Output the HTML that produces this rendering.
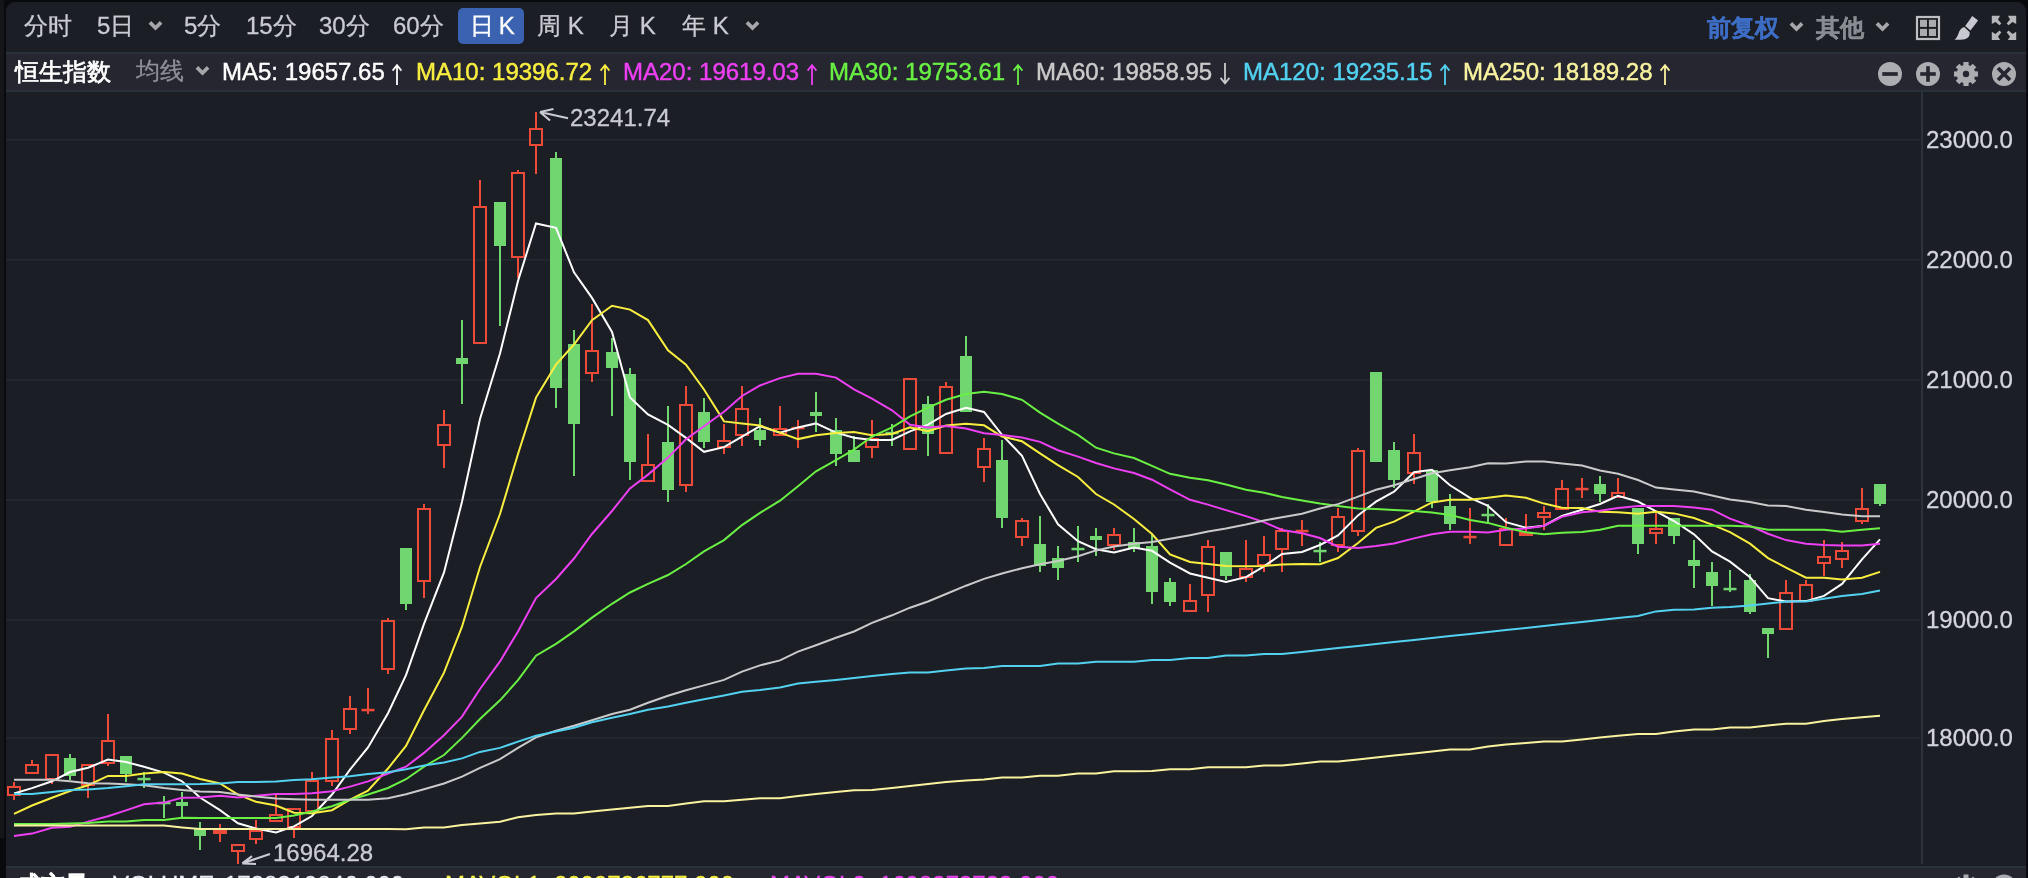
<!DOCTYPE html>
<html><head><meta charset="utf-8">
<style>
* { margin:0; padding:0; box-sizing:border-box; }
html,body { width:2028px; height:878px; overflow:hidden; background:#090a0d; }
body { position:relative; font-family:"Liberation Sans", sans-serif; }
.panel { position:absolute; left:6px; top:2px; width:2020px; height:900px; background:#1c1e25; border-radius:9px; overflow:hidden; }
.bar { position:absolute; left:6px; width:2020px; height:40px; background:#262631; border-top:2px solid #28323a; border-bottom:2px solid #28323a; }
.t { position:absolute; white-space:nowrap; font-size:24px; line-height:28px; will-change:transform; -webkit-text-stroke:0.3px currentColor; }
.tb { color:#c9cad2; top:12px; font-weight:500; }
.chev { position:absolute; }
.chart { position:absolute; left:0; top:0; }
.yl { position:absolute; left:1926px; font-size:24px; line-height:28px; color:#d3d4dc; will-change:transform; -webkit-text-stroke:0.3px currentColor; }
.ann { position:absolute; font-size:24px; line-height:28px; color:#c9cad2; will-change:transform; -webkit-text-stroke:0.3px currentColor; }
.ma { top:57.5px; -webkit-text-stroke:0.45px currentColor; }
.icon { position:absolute; }
</style></head><body>
<div style="position:absolute;left:0;top:0;width:4px;height:838px;background:#15161a"></div>
<div class="panel"></div>
<div class="bar" style="top:52px;"></div>
<div class="bar" style="top:866px;"></div>
<!-- toolbar -->
<div class="t tb" style="left:24px">分时</div>
<div class="t tb" style="left:97px">5日</div>
<svg class="chev" style="left:147.7px;top:20.0px" width="15" height="11" viewBox="0 0 15 11"><path d="M1.9 2.4 L7.5 8 L13.1 2.4" fill="none" stroke="#a5a7ab" stroke-width="3.7" stroke-linecap="butt" stroke-linejoin="miter"/></svg>
<div class="t tb" style="left:184px">5分</div>
<div class="t tb" style="left:246px">15分</div>
<div class="t tb" style="left:319px">30分</div>
<div class="t tb" style="left:393px">60分</div>
<div style="position:absolute;left:458px;top:8px;width:66px;height:36px;background:#3a62b0;border-radius:5px"></div>
<div class="t tb" style="left:469.5px;color:#fff;word-spacing:-2px">日 K</div>
<div class="t tb" style="left:537px">周 K</div>
<div class="t tb" style="left:609px">月 K</div>
<div class="t tb" style="left:682px">年 K</div>
<svg class="chev" style="left:744.7px;top:20.0px" width="15" height="11" viewBox="0 0 15 11"><path d="M1.9 2.4 L7.5 8 L13.1 2.4" fill="none" stroke="#a5a7ab" stroke-width="3.7" stroke-linecap="butt" stroke-linejoin="miter"/></svg>
<div class="t tb" style="left:1707px;top:13.5px;font-weight:bold;color:#3d6dc4">前复权</div>
<svg class="chev" style="left:1788.7px;top:21.0px" width="15" height="11" viewBox="0 0 15 11"><path d="M1.9 2.4 L7.5 8 L13.1 2.4" fill="none" stroke="#a5a7ab" stroke-width="3.7" stroke-linecap="butt" stroke-linejoin="miter"/></svg>
<div class="t tb" style="left:1816px;top:13.5px;font-weight:bold;color:#8a8c93">其他</div>
<svg class="chev" style="left:1874.7px;top:21.0px" width="15" height="11" viewBox="0 0 15 11"><path d="M1.9 2.4 L7.5 8 L13.1 2.4" fill="none" stroke="#a5a7ab" stroke-width="3.7" stroke-linecap="butt" stroke-linejoin="miter"/></svg>
<svg class="icon" style="left:1915px;top:15px" width="26" height="26" viewBox="0 0 26 26"><rect x="2" y="2" width="22" height="22" fill="none" stroke="#bdbfc3" stroke-width="2.2"/><rect x="5" y="4.8" width="7" height="7.1" fill="#a9abaf"/><rect x="13.9" y="4.8" width="7.1" height="7.1" fill="#a9abaf"/><rect x="5" y="13.9" width="7" height="7.1" fill="#a9abaf"/><rect x="13.9" y="13.9" width="7.1" height="7.1" fill="#a9abaf"/></svg>
<svg class="icon" style="left:1953px;top:15px" width="26" height="26" viewBox="0 0 26 26" fill="#c8c9d0"><polygon points="19.3,0.9 25.1,5.5 17.4,15.4 12.2,10.9"/><path d="M11.2 12.1 L16.5 16.9 C17.3 20.5 15.5 23.8 10 24.4 C6 24.8 3 24.8 1.5 24.8 C3.5 23.5 4.5 21 5.5 18.5 C6.5 15 8.5 12.8 11.2 12.1 Z"/></svg>
<svg class="icon" style="left:1991px;top:15px" width="26" height="26" viewBox="0 0 26 26" fill="#b4b6ba"><polygon transform="translate(0.8,0.8)" points="0,0 8.3,0 6.2,3.6 9.5,7.7 7.7,9.5 3.6,6.2 0,8.3"/><polygon transform="translate(25.2,0.8) scale(-1,1)" points="0,0 8.3,0 6.2,3.6 9.5,7.7 7.7,9.5 3.6,6.2 0,8.3"/><polygon transform="translate(0.8,25.1) scale(1,-1)" points="0,0 8.3,0 6.2,3.6 9.5,7.7 7.7,9.5 3.6,6.2 0,8.3"/><polygon transform="translate(25.2,25.1) scale(-1,-1)" points="0,0 8.3,0 6.2,3.6 9.5,7.7 7.7,9.5 3.6,6.2 0,8.3"/></svg>
<!-- indicator bar -->
<div class="t" style="left:15px;top:58px;color:#ffffff;font-weight:500;-webkit-text-stroke:0.7px #fff">恒生指数</div>
<div class="t" style="left:136px;top:57px;color:#8e9097">均线</div>
<svg class="chev" style="left:194.7px;top:65.0px" width="15" height="11" viewBox="0 0 15 11"><path d="M1.9 2.4 L7.5 8 L13.1 2.4" fill="none" stroke="#a5a7ab" stroke-width="3.7" stroke-linecap="butt" stroke-linejoin="miter"/></svg>
<div class="t ma" style="left:222px;color:#ffffff">MA5: 19657.65 <svg width="12" height="24" viewBox="0 0 12 24" style="vertical-align:-6px;margin-left:0px"><path d="M6 23 V3 M1.6 8.6 L6 3.2 L10.4 8.6" fill="none" stroke="currentColor" stroke-width="1.8"/></svg></div>
<div class="t ma" style="left:416px;color:#f8ee40">MA10: 19396.72 <svg width="12" height="24" viewBox="0 0 12 24" style="vertical-align:-6px;margin-left:0px"><path d="M6 23 V3 M1.6 8.6 L6 3.2 L10.4 8.6" fill="none" stroke="currentColor" stroke-width="1.8"/></svg></div>
<div class="t ma" style="left:623px;color:#ec40f2">MA20: 19619.03 <svg width="12" height="24" viewBox="0 0 12 24" style="vertical-align:-6px;margin-left:0px"><path d="M6 23 V3 M1.6 8.6 L6 3.2 L10.4 8.6" fill="none" stroke="currentColor" stroke-width="1.8"/></svg></div>
<div class="t ma" style="left:829px;color:#6af044">MA30: 19753.61 <svg width="12" height="24" viewBox="0 0 12 24" style="vertical-align:-6px;margin-left:0px"><path d="M6 23 V3 M1.6 8.6 L6 3.2 L10.4 8.6" fill="none" stroke="currentColor" stroke-width="1.8"/></svg></div>
<div class="t ma" style="left:1036px;color:#cacaca">MA60: 19858.95 <svg width="12" height="24" viewBox="0 0 12 24" style="vertical-align:-6px;margin-left:0px"><path d="M6 1 V21.5 M1.6 15.9 L6 21.3 L10.4 15.9" fill="none" stroke="currentColor" stroke-width="1.8"/></svg></div>
<div class="t ma" style="left:1243px;color:#52d2f0">MA120: 19235.15 <svg width="12" height="24" viewBox="0 0 12 24" style="vertical-align:-6px;margin-left:0px"><path d="M6 23 V3 M1.6 8.6 L6 3.2 L10.4 8.6" fill="none" stroke="currentColor" stroke-width="1.8"/></svg></div>
<div class="t ma" style="left:1463px;color:#f9f3a0">MA250: 18189.28 <svg width="12" height="24" viewBox="0 0 12 24" style="vertical-align:-6px;margin-left:0px"><path d="M6 23 V3 M1.6 8.6 L6 3.2 L10.4 8.6" fill="none" stroke="currentColor" stroke-width="1.8"/></svg></div>
<svg class="icon" style="left:1878px;top:61px" width="140" height="26" viewBox="0 0 140 26">
<circle cx="12" cy="13" r="12" fill="#abadb1"/><rect x="4.25" y="11.15" width="15.5" height="3.7" fill="#262631"/>
<circle cx="50" cy="13" r="12" fill="#abadb1"/><rect x="42.2" y="11.2" width="15.6" height="3.6" fill="#262631"/><rect x="48.2" y="5.2" width="3.6" height="15.6" fill="#262631"/>
<g transform="translate(88,13)" fill="#abadb1"><circle r="9.3"/><rect x="-2.6" y="-12" width="5.2" height="24"/><rect x="-2.6" y="-12" width="5.2" height="24" transform="rotate(45)"/><rect x="-2.6" y="-12" width="5.2" height="24" transform="rotate(90)"/><rect x="-2.6" y="-12" width="5.2" height="24" transform="rotate(135)"/><circle r="3.2" fill="#262631"/></g>
<circle cx="126" cy="13" r="12" fill="#abadb1"/><path d="M120 7 L132 19 M132 7 L120 19" stroke="#262631" stroke-width="3.8"/>
</svg>
<svg class="chart" width="2028" height="878" viewBox="0 0 2028 878">
<rect x="6" y="138.8" width="1914" height="2" fill="#24272e"/>
<rect x="6" y="258.7" width="1914" height="2" fill="#24272e"/>
<rect x="6" y="379.1" width="1914" height="2" fill="#24272e"/>
<rect x="6" y="499.0" width="1914" height="2" fill="#24272e"/>
<rect x="6" y="619.1" width="1914" height="2" fill="#24272e"/>
<rect x="6" y="737.1" width="1914" height="2" fill="#24272e"/>
<rect x="1921" y="92" width="2" height="772" fill="#2e323a"/>
<rect x="13.0" y="782.0" width="2" height="4.0" fill="#ee4a3a"/>
<rect x="13.0" y="796.0" width="2" height="4.0" fill="#ee4a3a"/>
<rect x="8.0" y="787.0" width="12" height="8.0" fill="none" stroke="#ee4a3a" stroke-width="2"/>
<rect x="31.0" y="760.0" width="2" height="4.0" fill="#ee4a3a"/>
<rect x="26.0" y="765.0" width="12" height="8.0" fill="none" stroke="#ee4a3a" stroke-width="2"/>
<rect x="51.0" y="780.0" width="2" height="4.0" fill="#ee4a3a"/>
<rect x="46.0" y="755.0" width="12" height="24.0" fill="none" stroke="#ee4a3a" stroke-width="2"/>
<rect x="69.0" y="754.0" width="2" height="4.0" fill="#72d670"/>
<rect x="69.0" y="776.0" width="2" height="4.0" fill="#72d670"/>
<rect x="64.0" y="758.0" width="12" height="18.0" fill="#72d670"/>
<rect x="87.0" y="786.0" width="2" height="12.0" fill="#ee4a3a"/>
<rect x="82.0" y="765.0" width="12" height="20.0" fill="none" stroke="#ee4a3a" stroke-width="2"/>
<rect x="107.0" y="714.0" width="2" height="26.0" fill="#ee4a3a"/>
<rect x="107.0" y="764.0" width="2" height="2.0" fill="#ee4a3a"/>
<rect x="102.0" y="741.0" width="12" height="22.0" fill="none" stroke="#ee4a3a" stroke-width="2"/>
<rect x="125.0" y="774.0" width="2" height="8.0" fill="#72d670"/>
<rect x="120.0" y="756.0" width="12" height="18.0" fill="#72d670"/>
<rect x="143.0" y="772.0" width="2" height="6.0" fill="#72d670"/>
<rect x="143.0" y="780.0" width="2" height="8.0" fill="#72d670"/>
<rect x="137.5" y="777.8" width="13" height="2.5" fill="#72d670"/>
<rect x="163.0" y="796.0" width="2" height="6.0" fill="#72d670"/>
<rect x="163.0" y="804.0" width="2" height="14.0" fill="#72d670"/>
<rect x="157.5" y="801.8" width="13" height="2.5" fill="#72d670"/>
<rect x="181.0" y="792.0" width="2" height="10.0" fill="#72d670"/>
<rect x="181.0" y="806.0" width="2" height="12.0" fill="#72d670"/>
<rect x="176.0" y="802.0" width="12" height="4.0" fill="#72d670"/>
<rect x="199.0" y="822.0" width="2" height="6.0" fill="#72d670"/>
<rect x="199.0" y="836.0" width="2" height="14.0" fill="#72d670"/>
<rect x="194.0" y="828.0" width="12" height="8.0" fill="#72d670"/>
<rect x="219.0" y="824.0" width="2" height="6.0" fill="#ee4a3a"/>
<rect x="219.0" y="834.0" width="2" height="8.0" fill="#ee4a3a"/>
<rect x="214.0" y="831.0" width="12" height="2.0" fill="none" stroke="#ee4a3a" stroke-width="2"/>
<rect x="237.0" y="852.0" width="2" height="12.0" fill="#ee4a3a"/>
<rect x="232.0" y="845.0" width="12" height="6.0" fill="none" stroke="#ee4a3a" stroke-width="2"/>
<rect x="255.0" y="820.0" width="2" height="10.0" fill="#ee4a3a"/>
<rect x="255.0" y="840.0" width="2" height="4.0" fill="#ee4a3a"/>
<rect x="250.0" y="831.0" width="12" height="8.0" fill="none" stroke="#ee4a3a" stroke-width="2"/>
<rect x="275.0" y="794.0" width="2" height="20.0" fill="#ee4a3a"/>
<rect x="270.0" y="815.0" width="12" height="6.0" fill="none" stroke="#ee4a3a" stroke-width="2"/>
<rect x="293.0" y="828.0" width="2" height="10.0" fill="#ee4a3a"/>
<rect x="288.0" y="809.0" width="12" height="18.0" fill="none" stroke="#ee4a3a" stroke-width="2"/>
<rect x="311.0" y="772.0" width="2" height="8.0" fill="#ee4a3a"/>
<rect x="306.0" y="781.0" width="12" height="30.0" fill="none" stroke="#ee4a3a" stroke-width="2"/>
<rect x="331.0" y="730.0" width="2" height="8.0" fill="#ee4a3a"/>
<rect x="331.0" y="782.0" width="2" height="4.0" fill="#ee4a3a"/>
<rect x="326.0" y="739.0" width="12" height="42.0" fill="none" stroke="#ee4a3a" stroke-width="2"/>
<rect x="349.0" y="696.0" width="2" height="12.0" fill="#ee4a3a"/>
<rect x="349.0" y="730.0" width="2" height="4.0" fill="#ee4a3a"/>
<rect x="344.0" y="709.0" width="12" height="20.0" fill="none" stroke="#ee4a3a" stroke-width="2"/>
<rect x="367.0" y="688.0" width="2" height="22.0" fill="#ee4a3a"/>
<rect x="367.0" y="710.0" width="2" height="4.0" fill="#ee4a3a"/>
<rect x="361.5" y="708.8" width="13" height="2.5" fill="#ee4a3a"/>
<rect x="387.0" y="618.0" width="2" height="2.0" fill="#ee4a3a"/>
<rect x="387.0" y="670.0" width="2" height="4.0" fill="#ee4a3a"/>
<rect x="382.0" y="621.0" width="12" height="48.0" fill="none" stroke="#ee4a3a" stroke-width="2"/>
<rect x="405.0" y="604.0" width="2" height="6.0" fill="#72d670"/>
<rect x="400.0" y="548.0" width="12" height="56.0" fill="#72d670"/>
<rect x="423.0" y="504.0" width="2" height="4.0" fill="#ee4a3a"/>
<rect x="423.0" y="582.0" width="2" height="16.0" fill="#ee4a3a"/>
<rect x="418.0" y="509.0" width="12" height="72.0" fill="none" stroke="#ee4a3a" stroke-width="2"/>
<rect x="443.0" y="410.0" width="2" height="14.0" fill="#ee4a3a"/>
<rect x="443.0" y="446.0" width="2" height="22.0" fill="#ee4a3a"/>
<rect x="438.0" y="425.0" width="12" height="20.0" fill="none" stroke="#ee4a3a" stroke-width="2"/>
<rect x="461.0" y="320.0" width="2" height="38.0" fill="#72d670"/>
<rect x="461.0" y="364.0" width="2" height="40.0" fill="#72d670"/>
<rect x="456.0" y="358.0" width="12" height="6.0" fill="#72d670"/>
<rect x="479.0" y="180.0" width="2" height="26.0" fill="#ee4a3a"/>
<rect x="474.0" y="207.0" width="12" height="136.0" fill="none" stroke="#ee4a3a" stroke-width="2"/>
<rect x="499.0" y="246.0" width="2" height="80.0" fill="#72d670"/>
<rect x="494.0" y="202.0" width="12" height="44.0" fill="#72d670"/>
<rect x="517.0" y="170.0" width="2" height="2.0" fill="#ee4a3a"/>
<rect x="517.0" y="258.0" width="2" height="20.0" fill="#ee4a3a"/>
<rect x="512.0" y="173.0" width="12" height="84.0" fill="none" stroke="#ee4a3a" stroke-width="2"/>
<rect x="535.0" y="112.0" width="2" height="16.0" fill="#ee4a3a"/>
<rect x="535.0" y="146.0" width="2" height="28.0" fill="#ee4a3a"/>
<rect x="530.0" y="129.0" width="12" height="16.0" fill="none" stroke="#ee4a3a" stroke-width="2"/>
<rect x="555.0" y="152.0" width="2" height="6.0" fill="#72d670"/>
<rect x="555.0" y="388.0" width="2" height="20.0" fill="#72d670"/>
<rect x="550.0" y="158.0" width="12" height="230.0" fill="#72d670"/>
<rect x="573.0" y="330.0" width="2" height="14.0" fill="#72d670"/>
<rect x="573.0" y="424.0" width="2" height="52.0" fill="#72d670"/>
<rect x="568.0" y="344.0" width="12" height="80.0" fill="#72d670"/>
<rect x="591.0" y="304.0" width="2" height="46.0" fill="#ee4a3a"/>
<rect x="591.0" y="374.0" width="2" height="8.0" fill="#ee4a3a"/>
<rect x="586.0" y="351.0" width="12" height="22.0" fill="none" stroke="#ee4a3a" stroke-width="2"/>
<rect x="611.0" y="338.0" width="2" height="14.0" fill="#72d670"/>
<rect x="611.0" y="368.0" width="2" height="48.0" fill="#72d670"/>
<rect x="606.0" y="352.0" width="12" height="16.0" fill="#72d670"/>
<rect x="629.0" y="368.0" width="2" height="6.0" fill="#72d670"/>
<rect x="629.0" y="462.0" width="2" height="18.0" fill="#72d670"/>
<rect x="624.0" y="374.0" width="12" height="88.0" fill="#72d670"/>
<rect x="647.0" y="434.0" width="2" height="30.0" fill="#ee4a3a"/>
<rect x="642.0" y="465.0" width="12" height="16.0" fill="none" stroke="#ee4a3a" stroke-width="2"/>
<rect x="667.0" y="406.0" width="2" height="36.0" fill="#72d670"/>
<rect x="667.0" y="490.0" width="2" height="12.0" fill="#72d670"/>
<rect x="662.0" y="442.0" width="12" height="48.0" fill="#72d670"/>
<rect x="685.0" y="386.0" width="2" height="18.0" fill="#ee4a3a"/>
<rect x="685.0" y="486.0" width="2" height="6.0" fill="#ee4a3a"/>
<rect x="680.0" y="405.0" width="12" height="80.0" fill="none" stroke="#ee4a3a" stroke-width="2"/>
<rect x="703.0" y="398.0" width="2" height="14.0" fill="#72d670"/>
<rect x="703.0" y="442.0" width="2" height="6.0" fill="#72d670"/>
<rect x="698.0" y="412.0" width="12" height="30.0" fill="#72d670"/>
<rect x="723.0" y="424.0" width="2" height="16.0" fill="#ee4a3a"/>
<rect x="723.0" y="448.0" width="2" height="6.0" fill="#ee4a3a"/>
<rect x="718.0" y="441.0" width="12" height="6.0" fill="none" stroke="#ee4a3a" stroke-width="2"/>
<rect x="741.0" y="386.0" width="2" height="22.0" fill="#ee4a3a"/>
<rect x="741.0" y="436.0" width="2" height="10.0" fill="#ee4a3a"/>
<rect x="736.0" y="409.0" width="12" height="26.0" fill="none" stroke="#ee4a3a" stroke-width="2"/>
<rect x="759.0" y="418.0" width="2" height="12.0" fill="#72d670"/>
<rect x="759.0" y="440.0" width="2" height="6.0" fill="#72d670"/>
<rect x="754.0" y="430.0" width="12" height="10.0" fill="#72d670"/>
<rect x="779.0" y="406.0" width="2" height="22.0" fill="#ee4a3a"/>
<rect x="774.0" y="429.0" width="12" height="6.0" fill="none" stroke="#ee4a3a" stroke-width="2"/>
<rect x="797.0" y="420.0" width="2" height="8.0" fill="#ee4a3a"/>
<rect x="797.0" y="428.0" width="2" height="20.0" fill="#ee4a3a"/>
<rect x="791.5" y="426.8" width="13" height="2.5" fill="#ee4a3a"/>
<rect x="815.0" y="392.0" width="2" height="20.0" fill="#72d670"/>
<rect x="815.0" y="416.0" width="2" height="16.0" fill="#72d670"/>
<rect x="810.0" y="412.0" width="12" height="4.0" fill="#72d670"/>
<rect x="835.0" y="418.0" width="2" height="12.0" fill="#72d670"/>
<rect x="835.0" y="454.0" width="2" height="12.0" fill="#72d670"/>
<rect x="830.0" y="430.0" width="12" height="24.0" fill="#72d670"/>
<rect x="853.0" y="436.0" width="2" height="14.0" fill="#72d670"/>
<rect x="848.0" y="450.0" width="12" height="12.0" fill="#72d670"/>
<rect x="871.0" y="420.0" width="2" height="18.0" fill="#ee4a3a"/>
<rect x="871.0" y="448.0" width="2" height="10.0" fill="#ee4a3a"/>
<rect x="866.0" y="439.0" width="12" height="8.0" fill="none" stroke="#ee4a3a" stroke-width="2"/>
<rect x="891.0" y="424.0" width="2" height="8.0" fill="#72d670"/>
<rect x="891.0" y="434.0" width="2" height="12.0" fill="#72d670"/>
<rect x="885.5" y="431.8" width="13" height="2.5" fill="#72d670"/>
<rect x="904.0" y="379.0" width="12" height="70.0" fill="none" stroke="#ee4a3a" stroke-width="2"/>
<rect x="927.0" y="396.0" width="2" height="8.0" fill="#72d670"/>
<rect x="927.0" y="434.0" width="2" height="22.0" fill="#72d670"/>
<rect x="922.0" y="404.0" width="12" height="30.0" fill="#72d670"/>
<rect x="945.0" y="382.0" width="2" height="4.0" fill="#ee4a3a"/>
<rect x="940.0" y="387.0" width="12" height="66.0" fill="none" stroke="#ee4a3a" stroke-width="2"/>
<rect x="965.0" y="336.0" width="2" height="20.0" fill="#72d670"/>
<rect x="960.0" y="356.0" width="12" height="56.0" fill="#72d670"/>
<rect x="983.0" y="438.0" width="2" height="10.0" fill="#ee4a3a"/>
<rect x="983.0" y="468.0" width="2" height="14.0" fill="#ee4a3a"/>
<rect x="978.0" y="449.0" width="12" height="18.0" fill="none" stroke="#ee4a3a" stroke-width="2"/>
<rect x="1001.0" y="440.0" width="2" height="20.0" fill="#72d670"/>
<rect x="1001.0" y="518.0" width="2" height="10.0" fill="#72d670"/>
<rect x="996.0" y="460.0" width="12" height="58.0" fill="#72d670"/>
<rect x="1021.0" y="518.0" width="2" height="2.0" fill="#ee4a3a"/>
<rect x="1021.0" y="538.0" width="2" height="8.0" fill="#ee4a3a"/>
<rect x="1016.0" y="521.0" width="12" height="16.0" fill="none" stroke="#ee4a3a" stroke-width="2"/>
<rect x="1039.0" y="516.0" width="2" height="28.0" fill="#72d670"/>
<rect x="1039.0" y="566.0" width="2" height="6.0" fill="#72d670"/>
<rect x="1034.0" y="544.0" width="12" height="22.0" fill="#72d670"/>
<rect x="1057.0" y="546.0" width="2" height="12.0" fill="#72d670"/>
<rect x="1057.0" y="568.0" width="2" height="12.0" fill="#72d670"/>
<rect x="1052.0" y="558.0" width="12" height="10.0" fill="#72d670"/>
<rect x="1077.0" y="526.0" width="2" height="22.0" fill="#72d670"/>
<rect x="1077.0" y="550.0" width="2" height="12.0" fill="#72d670"/>
<rect x="1071.5" y="547.8" width="13" height="2.5" fill="#72d670"/>
<rect x="1095.0" y="528.0" width="2" height="8.0" fill="#72d670"/>
<rect x="1095.0" y="540.0" width="2" height="16.0" fill="#72d670"/>
<rect x="1090.0" y="536.0" width="12" height="4.0" fill="#72d670"/>
<rect x="1113.0" y="528.0" width="2" height="6.0" fill="#ee4a3a"/>
<rect x="1113.0" y="546.0" width="2" height="4.0" fill="#ee4a3a"/>
<rect x="1108.0" y="535.0" width="12" height="10.0" fill="none" stroke="#ee4a3a" stroke-width="2"/>
<rect x="1133.0" y="528.0" width="2" height="14.0" fill="#72d670"/>
<rect x="1133.0" y="548.0" width="2" height="4.0" fill="#72d670"/>
<rect x="1128.0" y="542.0" width="12" height="6.0" fill="#72d670"/>
<rect x="1151.0" y="534.0" width="2" height="12.0" fill="#72d670"/>
<rect x="1151.0" y="592.0" width="2" height="12.0" fill="#72d670"/>
<rect x="1146.0" y="546.0" width="12" height="46.0" fill="#72d670"/>
<rect x="1169.0" y="578.0" width="2" height="4.0" fill="#72d670"/>
<rect x="1169.0" y="602.0" width="2" height="4.0" fill="#72d670"/>
<rect x="1164.0" y="582.0" width="12" height="20.0" fill="#72d670"/>
<rect x="1189.0" y="584.0" width="2" height="16.0" fill="#ee4a3a"/>
<rect x="1184.0" y="601.0" width="12" height="10.0" fill="none" stroke="#ee4a3a" stroke-width="2"/>
<rect x="1207.0" y="540.0" width="2" height="6.0" fill="#ee4a3a"/>
<rect x="1207.0" y="596.0" width="2" height="16.0" fill="#ee4a3a"/>
<rect x="1202.0" y="547.0" width="12" height="48.0" fill="none" stroke="#ee4a3a" stroke-width="2"/>
<rect x="1225.0" y="576.0" width="2" height="4.0" fill="#72d670"/>
<rect x="1220.0" y="552.0" width="12" height="24.0" fill="#72d670"/>
<rect x="1245.0" y="540.0" width="2" height="28.0" fill="#ee4a3a"/>
<rect x="1245.0" y="578.0" width="2" height="4.0" fill="#ee4a3a"/>
<rect x="1240.0" y="569.0" width="12" height="8.0" fill="none" stroke="#ee4a3a" stroke-width="2"/>
<rect x="1263.0" y="536.0" width="2" height="18.0" fill="#ee4a3a"/>
<rect x="1263.0" y="566.0" width="2" height="6.0" fill="#ee4a3a"/>
<rect x="1258.0" y="555.0" width="12" height="10.0" fill="none" stroke="#ee4a3a" stroke-width="2"/>
<rect x="1281.0" y="528.0" width="2" height="2.0" fill="#ee4a3a"/>
<rect x="1281.0" y="550.0" width="2" height="22.0" fill="#ee4a3a"/>
<rect x="1276.0" y="531.0" width="12" height="18.0" fill="none" stroke="#ee4a3a" stroke-width="2"/>
<rect x="1301.0" y="520.0" width="2" height="10.0" fill="#ee4a3a"/>
<rect x="1301.0" y="532.0" width="2" height="14.0" fill="#ee4a3a"/>
<rect x="1295.5" y="529.8" width="13" height="2.5" fill="#ee4a3a"/>
<rect x="1319.0" y="542.0" width="2" height="8.0" fill="#72d670"/>
<rect x="1319.0" y="552.0" width="2" height="10.0" fill="#72d670"/>
<rect x="1313.5" y="549.8" width="13" height="2.5" fill="#72d670"/>
<rect x="1337.0" y="508.0" width="2" height="8.0" fill="#ee4a3a"/>
<rect x="1337.0" y="546.0" width="2" height="6.0" fill="#ee4a3a"/>
<rect x="1332.0" y="517.0" width="12" height="28.0" fill="none" stroke="#ee4a3a" stroke-width="2"/>
<rect x="1357.0" y="448.0" width="2" height="2.0" fill="#ee4a3a"/>
<rect x="1357.0" y="532.0" width="2" height="4.0" fill="#ee4a3a"/>
<rect x="1352.0" y="451.0" width="12" height="80.0" fill="none" stroke="#ee4a3a" stroke-width="2"/>
<rect x="1370.0" y="372.0" width="12" height="90.0" fill="#72d670"/>
<rect x="1393.0" y="442.0" width="2" height="8.0" fill="#72d670"/>
<rect x="1393.0" y="480.0" width="2" height="8.0" fill="#72d670"/>
<rect x="1388.0" y="450.0" width="12" height="30.0" fill="#72d670"/>
<rect x="1413.0" y="434.0" width="2" height="18.0" fill="#ee4a3a"/>
<rect x="1413.0" y="474.0" width="2" height="10.0" fill="#ee4a3a"/>
<rect x="1408.0" y="453.0" width="12" height="20.0" fill="none" stroke="#ee4a3a" stroke-width="2"/>
<rect x="1431.0" y="502.0" width="2" height="6.0" fill="#72d670"/>
<rect x="1426.0" y="470.0" width="12" height="32.0" fill="#72d670"/>
<rect x="1449.0" y="494.0" width="2" height="12.0" fill="#72d670"/>
<rect x="1449.0" y="524.0" width="2" height="6.0" fill="#72d670"/>
<rect x="1444.0" y="506.0" width="12" height="18.0" fill="#72d670"/>
<rect x="1469.0" y="508.0" width="2" height="28.0" fill="#ee4a3a"/>
<rect x="1469.0" y="538.0" width="2" height="6.0" fill="#ee4a3a"/>
<rect x="1463.5" y="535.8" width="13" height="2.5" fill="#ee4a3a"/>
<rect x="1487.0" y="504.0" width="2" height="10.0" fill="#72d670"/>
<rect x="1487.0" y="516.0" width="2" height="8.0" fill="#72d670"/>
<rect x="1481.5" y="513.8" width="13" height="2.5" fill="#72d670"/>
<rect x="1505.0" y="518.0" width="2" height="10.0" fill="#ee4a3a"/>
<rect x="1500.0" y="529.0" width="12" height="16.0" fill="none" stroke="#ee4a3a" stroke-width="2"/>
<rect x="1525.0" y="514.0" width="2" height="18.0" fill="#ee4a3a"/>
<rect x="1520.0" y="533.0" width="12" height="2.0" fill="none" stroke="#ee4a3a" stroke-width="2"/>
<rect x="1543.0" y="506.0" width="2" height="6.0" fill="#ee4a3a"/>
<rect x="1543.0" y="518.0" width="2" height="12.0" fill="#ee4a3a"/>
<rect x="1538.0" y="513.0" width="12" height="4.0" fill="none" stroke="#ee4a3a" stroke-width="2"/>
<rect x="1561.0" y="480.0" width="2" height="8.0" fill="#ee4a3a"/>
<rect x="1556.0" y="489.0" width="12" height="20.0" fill="none" stroke="#ee4a3a" stroke-width="2"/>
<rect x="1581.0" y="478.0" width="2" height="10.0" fill="#ee4a3a"/>
<rect x="1581.0" y="490.0" width="2" height="8.0" fill="#ee4a3a"/>
<rect x="1575.5" y="487.8" width="13" height="2.5" fill="#ee4a3a"/>
<rect x="1599.0" y="476.0" width="2" height="8.0" fill="#72d670"/>
<rect x="1599.0" y="494.0" width="2" height="8.0" fill="#72d670"/>
<rect x="1594.0" y="484.0" width="12" height="10.0" fill="#72d670"/>
<rect x="1617.0" y="478.0" width="2" height="14.0" fill="#ee4a3a"/>
<rect x="1612.0" y="493.0" width="12" height="4.0" fill="none" stroke="#ee4a3a" stroke-width="2"/>
<rect x="1637.0" y="544.0" width="2" height="10.0" fill="#72d670"/>
<rect x="1632.0" y="508.0" width="12" height="36.0" fill="#72d670"/>
<rect x="1655.0" y="512.0" width="2" height="16.0" fill="#ee4a3a"/>
<rect x="1655.0" y="534.0" width="2" height="10.0" fill="#ee4a3a"/>
<rect x="1650.0" y="529.0" width="12" height="4.0" fill="none" stroke="#ee4a3a" stroke-width="2"/>
<rect x="1673.0" y="536.0" width="2" height="8.0" fill="#72d670"/>
<rect x="1668.0" y="518.0" width="12" height="18.0" fill="#72d670"/>
<rect x="1693.0" y="540.0" width="2" height="20.0" fill="#72d670"/>
<rect x="1693.0" y="566.0" width="2" height="22.0" fill="#72d670"/>
<rect x="1688.0" y="560.0" width="12" height="6.0" fill="#72d670"/>
<rect x="1711.0" y="562.0" width="2" height="10.0" fill="#72d670"/>
<rect x="1711.0" y="586.0" width="2" height="20.0" fill="#72d670"/>
<rect x="1706.0" y="572.0" width="12" height="14.0" fill="#72d670"/>
<rect x="1729.0" y="570.0" width="2" height="18.0" fill="#72d670"/>
<rect x="1729.0" y="590.0" width="2" height="2.0" fill="#72d670"/>
<rect x="1723.5" y="587.8" width="13" height="2.5" fill="#72d670"/>
<rect x="1749.0" y="574.0" width="2" height="6.0" fill="#72d670"/>
<rect x="1749.0" y="612.0" width="2" height="2.0" fill="#72d670"/>
<rect x="1744.0" y="580.0" width="12" height="32.0" fill="#72d670"/>
<rect x="1767.0" y="634.0" width="2" height="24.0" fill="#72d670"/>
<rect x="1762.0" y="628.0" width="12" height="6.0" fill="#72d670"/>
<rect x="1785.0" y="580.0" width="2" height="12.0" fill="#ee4a3a"/>
<rect x="1780.0" y="593.0" width="12" height="36.0" fill="none" stroke="#ee4a3a" stroke-width="2"/>
<rect x="1805.0" y="580.0" width="2" height="4.0" fill="#ee4a3a"/>
<rect x="1800.0" y="585.0" width="12" height="16.0" fill="none" stroke="#ee4a3a" stroke-width="2"/>
<rect x="1823.0" y="540.0" width="2" height="16.0" fill="#ee4a3a"/>
<rect x="1823.0" y="564.0" width="2" height="12.0" fill="#ee4a3a"/>
<rect x="1818.0" y="557.0" width="12" height="6.0" fill="none" stroke="#ee4a3a" stroke-width="2"/>
<rect x="1841.0" y="542.0" width="2" height="8.0" fill="#ee4a3a"/>
<rect x="1841.0" y="560.0" width="2" height="8.0" fill="#ee4a3a"/>
<rect x="1836.0" y="551.0" width="12" height="8.0" fill="none" stroke="#ee4a3a" stroke-width="2"/>
<rect x="1861.0" y="488.0" width="2" height="20.0" fill="#ee4a3a"/>
<rect x="1861.0" y="522.0" width="2" height="2.0" fill="#ee4a3a"/>
<rect x="1856.0" y="509.0" width="12" height="12.0" fill="none" stroke="#ee4a3a" stroke-width="2"/>
<rect x="1879.0" y="504.0" width="2" height="2.0" fill="#72d670"/>
<rect x="1874.0" y="484.0" width="12" height="20.0" fill="#72d670"/>
<polyline points="14.0,793.5 32.0,788.1 52.0,781.3 70.0,772.0 88.0,767.8 108.0,759.6 126.0,762.0 144.0,766.8 164.0,772.6 182.0,781.3 200.0,797.5 220.0,810.2 238.0,823.3 256.0,828.5 276.0,832.5 294.0,826.4 312.0,816.0 332.0,794.5 350.0,769.6 368.0,747.4 388.0,713.3 406.0,675.2 424.0,623.8 444.0,572.4 462.0,501.8 480.0,419.0 500.0,353.5 518.0,281.0 536.0,223.5 556.0,227.8 574.0,272.3 592.0,297.9 612.0,331.9 630.0,397.4 648.0,414.4 668.0,424.9 686.0,437.9 704.0,451.8 724.0,447.1 742.0,436.6 760.0,426.2 780.0,432.6 798.0,427.4 816.0,423.4 836.0,432.6 854.0,437.8 872.0,439.9 892.0,439.9 910.0,431.3 928.0,424.7 946.0,414.0 966.0,407.8 984.0,411.9 1002.0,434.9 1022.0,455.7 1040.0,494.0 1058.0,524.3 1078.0,541.2 1096.0,549.2 1114.0,552.4 1134.0,547.5 1152.0,550.8 1170.0,562.7 1190.0,573.5 1208.0,577.8 1226.0,581.9 1246.0,577.1 1264.0,566.3 1282.0,553.9 1302.0,552.0 1320.0,545.0 1338.0,535.4 1358.0,515.4 1376.0,501.6 1394.0,491.6 1414.0,472.3 1432.0,469.8 1450.0,485.3 1470.0,497.8 1488.0,505.9 1506.0,522.2 1526.0,527.8 1544.0,525.7 1562.0,515.9 1582.0,509.7 1600.0,504.0 1618.0,495.8 1638.0,501.5 1656.0,511.4 1674.0,521.0 1694.0,534.3 1712.0,551.4 1730.0,561.6 1750.0,577.2 1768.0,598.2 1786.0,601.6 1806.0,601.1 1824.0,595.9 1842.0,583.9 1862.0,559.3 1880.0,539.4" fill="none" stroke="#ffffff" stroke-width="2" stroke-linejoin="miter" stroke-miterlimit="6"/>
<polyline points="14.0,813.8 32.0,805.5 52.0,797.8 70.0,791.0 88.0,785.2 108.0,775.9 126.0,775.9 144.0,773.6 164.0,772.0 182.0,773.6 200.0,779.0 220.0,783.5 238.0,794.5 256.0,801.8 276.0,805.5 294.0,812.8 312.0,813.3 332.0,810.2 350.0,799.7 368.0,790.6 388.0,768.5 406.0,745.9 424.0,710.3 444.0,672.7 462.0,626.7 480.0,567.0 500.0,514.0 518.0,454.0 536.0,397.6 556.0,364.7 574.0,344.5 592.0,320.1 612.0,305.7 630.0,309.6 648.0,320.1 668.0,350.2 686.0,364.6 704.0,389.5 724.0,421.4 742.0,423.5 760.0,425.5 780.0,432.6 798.0,439.1 816.0,435.2 836.0,433.1 854.0,432.1 872.0,435.2 892.0,433.9 910.0,427.4 928.0,431.3 946.0,425.6 966.0,423.7 984.0,425.3 1002.0,436.5 1022.0,441.3 1040.0,453.4 1058.0,465.2 1078.0,477.0 1096.0,494.0 1114.0,504.5 1134.0,519.0 1152.0,534.0 1170.0,554.4 1190.0,562.0 1208.0,563.9 1226.0,565.9 1246.0,566.3 1264.0,565.9 1282.0,564.4 1302.0,563.9 1320.0,564.3 1338.0,558.0 1358.0,543.0 1376.0,527.9 1394.0,521.7 1414.0,511.6 1432.0,502.4 1450.0,499.8 1470.0,499.8 1488.0,497.8 1506.0,495.6 1526.0,497.8 1544.0,503.6 1562.0,507.7 1582.0,508.1 1600.0,511.8 1618.0,512.2 1638.0,513.8 1656.0,511.8 1674.0,513.4 1694.0,518.0 1712.0,524.6 1730.0,532.2 1750.0,543.7 1768.0,558.1 1786.0,567.6 1806.0,577.7 1824.0,577.7 1842.0,579.6 1862.0,577.7 1880.0,571.9" fill="none" stroke="#f8ee40" stroke-width="2" stroke-linejoin="miter" stroke-miterlimit="6"/>
<polyline points="14.0,835.9 32.0,833.6 52.0,827.8 70.0,826.8 88.0,821.6 108.0,816.2 126.0,810.4 144.0,804.2 164.0,802.6 182.0,797.8 200.0,797.5 220.0,795.8 238.0,797.6 256.0,795.8 276.0,794.0 294.0,794.0 312.0,793.2 332.0,791.3 350.0,786.6 368.0,781.4 388.0,773.5 406.0,766.7 424.0,752.9 444.0,735.3 462.0,716.6 480.0,689.0 500.0,661.4 518.0,631.4 536.0,598.0 556.0,579.0 574.0,558.5 592.0,534.0 612.0,511.0 630.0,488.5 648.0,474.6 668.0,457.6 686.0,439.3 704.0,426.2 724.0,411.8 742.0,396.0 760.0,385.5 780.0,378.1 798.0,373.7 816.0,373.7 836.0,377.6 854.0,389.4 872.0,398.6 892.0,410.3 910.0,424.7 928.0,427.4 946.0,426.0 966.0,428.5 984.0,433.3 1002.0,434.9 1022.0,437.5 1040.0,441.9 1058.0,450.2 1078.0,456.6 1096.0,463.0 1114.0,468.4 1134.0,473.0 1152.0,479.7 1170.0,489.3 1190.0,499.8 1208.0,504.6 1226.0,510.1 1246.0,516.1 1264.0,522.1 1282.0,530.0 1302.0,533.3 1320.0,538.0 1338.0,546.7 1358.0,548.0 1376.0,546.0 1394.0,543.5 1414.0,538.4 1432.0,534.2 1450.0,531.7 1470.0,531.7 1488.0,532.4 1506.0,529.8 1526.0,528.6 1544.0,525.7 1562.0,516.9 1582.0,512.2 1600.0,510.8 1618.0,508.1 1638.0,506.0 1656.0,506.0 1674.0,506.0 1694.0,507.5 1712.0,509.7 1730.0,518.6 1750.0,525.8 1768.0,533.7 1786.0,540.1 1806.0,543.7 1824.0,544.9 1842.0,545.6 1862.0,545.6 1880.0,543.7" fill="none" stroke="#ec40f2" stroke-width="2" stroke-linejoin="miter" stroke-miterlimit="6"/>
<polyline points="14.0,823.9 32.0,823.9 52.0,823.9 70.0,823.5 88.0,823.0 108.0,821.6 126.0,821.6 144.0,820.0 164.0,820.0 182.0,817.7 200.0,818.0 220.0,818.0 238.0,818.0 256.0,818.0 276.0,818.0 294.0,815.4 312.0,811.5 332.0,806.3 350.0,799.7 368.0,794.5 388.0,788.0 406.0,779.2 424.0,766.7 444.0,755.0 462.0,737.9 480.0,719.0 500.0,700.3 518.0,680.2 536.0,655.7 556.0,643.9 574.0,631.4 592.0,617.6 612.0,603.8 630.0,592.5 648.0,583.8 668.0,575.0 686.0,564.0 704.0,551.4 724.0,540.1 742.0,525.1 760.0,512.9 780.0,500.7 798.0,486.3 816.0,471.3 836.0,460.1 854.0,449.6 872.0,436.5 892.0,427.4 910.0,416.4 928.0,407.7 946.0,399.8 966.0,394.1 984.0,391.8 1002.0,394.1 1022.0,399.8 1040.0,412.6 1058.0,423.7 1078.0,434.9 1096.0,447.7 1114.0,453.4 1134.0,458.0 1152.0,465.9 1170.0,473.8 1190.0,477.8 1208.0,480.2 1226.0,484.5 1246.0,489.8 1264.0,492.7 1282.0,497.0 1302.0,500.6 1320.0,503.5 1338.0,505.9 1358.0,508.4 1376.0,509.1 1394.0,509.9 1414.0,510.9 1432.0,512.4 1450.0,514.9 1470.0,519.9 1488.0,522.9 1506.0,527.8 1526.0,532.3 1544.0,534.3 1562.0,532.7 1582.0,531.9 1600.0,529.8 1618.0,525.7 1638.0,525.7 1656.0,525.7 1674.0,525.7 1694.0,525.7 1712.0,525.8 1730.0,525.8 1750.0,526.5 1768.0,529.8 1786.0,529.8 1806.0,529.8 1824.0,529.8 1842.0,531.8 1862.0,529.8 1880.0,528.2" fill="none" stroke="#6af044" stroke-width="2" stroke-linejoin="miter" stroke-miterlimit="6"/>
<polyline points="14.0,779.8 32.0,779.8 52.0,779.8 70.0,781.3 88.0,783.3 108.0,783.6 126.0,784.2 144.0,785.2 164.0,788.1 182.0,790.0 200.0,791.5 220.0,791.9 238.0,794.5 256.0,796.6 276.0,798.4 294.0,799.2 312.0,799.7 332.0,799.7 350.0,799.7 368.0,799.7 388.0,798.2 406.0,794.2 424.0,789.2 444.0,783.5 462.0,776.7 480.0,767.9 500.0,759.2 518.0,747.9 536.0,737.4 556.0,730.8 574.0,725.8 592.0,720.3 612.0,714.0 630.0,709.8 648.0,702.8 668.0,695.8 686.0,690.2 704.0,685.4 724.0,679.9 742.0,671.6 760.0,665.4 780.0,660.4 798.0,651.6 816.0,645.3 836.0,637.8 854.0,631.5 872.0,622.8 892.0,615.3 910.0,607.7 928.0,601.5 946.0,594.0 966.0,585.7 984.0,578.9 1002.0,573.5 1022.0,568.3 1040.0,564.2 1058.0,561.0 1078.0,556.2 1096.0,550.4 1114.0,546.6 1134.0,543.8 1152.0,541.9 1170.0,538.8 1190.0,535.2 1208.0,531.6 1226.0,528.5 1246.0,524.5 1264.0,520.4 1282.0,517.3 1302.0,513.7 1320.0,508.5 1338.0,504.1 1358.0,496.6 1376.0,489.8 1394.0,485.3 1414.0,479.0 1432.0,473.3 1450.0,470.3 1470.0,467.3 1488.0,463.3 1506.0,463.4 1526.0,461.5 1544.0,461.5 1562.0,463.6 1582.0,465.6 1600.0,470.4 1618.0,473.8 1638.0,480.0 1656.0,487.6 1674.0,489.6 1694.0,491.6 1712.0,495.4 1730.0,499.5 1750.0,501.9 1768.0,505.4 1786.0,505.9 1806.0,509.7 1824.0,512.1 1842.0,514.5 1862.0,516.2 1880.0,516.2" fill="none" stroke="#cacaca" stroke-width="2" stroke-linejoin="miter" stroke-miterlimit="6"/>
<polyline points="14.0,793.9 32.0,793.9 52.0,792.0 70.0,790.0 88.0,789.4 108.0,788.1 126.0,786.2 144.0,784.2 164.0,784.2 182.0,784.2 200.0,784.1 220.0,783.5 238.0,781.9 256.0,781.9 276.0,781.4 294.0,780.1 312.0,779.3 332.0,777.5 350.0,776.2 368.0,774.0 388.0,772.2 406.0,769.2 424.0,765.4 444.0,762.4 462.0,758.4 480.0,751.9 500.0,747.9 518.0,741.6 536.0,735.8 556.0,731.6 574.0,727.8 592.0,722.3 612.0,717.8 630.0,714.0 648.0,709.8 668.0,706.5 686.0,702.8 704.0,699.2 724.0,695.4 742.0,691.7 760.0,689.9 780.0,687.4 798.0,683.4 816.0,681.7 836.0,679.9 854.0,677.9 872.0,675.9 892.0,674.1 910.0,672.4 928.0,672.4 946.0,670.4 966.0,668.4 984.0,667.9 1002.0,665.9 1022.0,665.9 1040.0,665.9 1058.0,663.5 1078.0,663.5 1096.0,661.8 1114.0,661.8 1134.0,661.8 1152.0,660.1 1170.0,660.1 1190.0,658.0 1208.0,658.0 1226.0,655.6 1246.0,655.6 1264.0,653.9 1282.0,653.9 1302.0,651.9 1320.0,649.9 1338.0,647.9 1358.0,645.9 1376.0,643.9 1394.0,641.9 1414.0,639.9 1432.0,637.9 1450.0,635.9 1470.0,633.9 1488.0,631.9 1506.0,629.9 1526.0,627.9 1544.0,625.9 1562.0,623.9 1582.0,621.9 1600.0,619.9 1618.0,617.9 1638.0,615.9 1656.0,611.4 1674.0,609.7 1694.0,609.5 1712.0,607.8 1730.0,607.1 1750.0,605.4 1768.0,603.5 1786.0,601.6 1806.0,601.6 1824.0,598.7 1842.0,595.9 1862.0,593.9 1880.0,590.4" fill="none" stroke="#52d2f0" stroke-width="2" stroke-linejoin="miter" stroke-miterlimit="6"/>
<polyline points="14.0,825.5 32.0,825.5 52.0,825.5 70.0,825.5 88.0,825.5 108.0,825.5 126.0,825.5 144.0,825.5 164.0,825.5 182.0,827.4 200.0,829.0 220.0,829.0 238.0,829.0 256.0,829.0 276.0,829.0 294.0,829.0 312.0,829.0 332.0,829.0 350.0,829.0 368.0,829.0 388.0,829.0 406.0,829.3 424.0,827.4 444.0,827.4 462.0,825.0 480.0,823.5 500.0,821.8 518.0,817.3 536.0,815.0 556.0,813.6 574.0,813.6 592.0,811.5 612.0,809.5 630.0,807.7 648.0,806.1 668.0,806.1 686.0,803.5 704.0,801.2 724.0,801.2 742.0,799.7 760.0,798.2 780.0,798.2 798.0,796.0 816.0,794.0 836.0,792.0 854.0,790.2 872.0,790.0 892.0,788.0 910.0,786.0 928.0,784.0 946.0,782.0 966.0,780.5 984.0,779.5 1002.0,777.6 1022.0,777.6 1040.0,775.7 1058.0,775.7 1078.0,773.5 1096.0,773.5 1114.0,771.2 1134.0,771.2 1152.0,771.1 1170.0,769.2 1190.0,769.2 1208.0,767.3 1226.0,767.3 1246.0,767.3 1264.0,765.4 1282.0,765.4 1302.0,763.5 1320.0,761.6 1338.0,761.6 1358.0,759.5 1376.0,757.5 1394.0,755.5 1414.0,753.5 1432.0,751.5 1450.0,749.5 1470.0,749.5 1488.0,746.5 1506.0,744.5 1526.0,743.0 1544.0,741.5 1562.0,741.5 1582.0,739.5 1600.0,737.5 1618.0,735.8 1638.0,733.9 1656.0,733.9 1674.0,731.5 1694.0,729.4 1712.0,729.4 1730.0,727.5 1750.0,727.5 1768.0,725.5 1786.0,723.7 1806.0,723.7 1824.0,721.0 1842.0,719.0 1862.0,717.3 1880.0,715.7" fill="none" stroke="#f9f3a0" stroke-width="2" stroke-linejoin="miter" stroke-miterlimit="6"/>
<path d="M568 118.3 L540 112 M540 112 L553.5 109 M540 112 L550 120.5" fill="none" stroke="#c9cad2" stroke-width="2.2"/>
<path d="M270 854 L242.3 863.4 M242.3 863.4 L252 856.2 M242.3 863.4 L256 864" fill="none" stroke="#c9cad2" stroke-width="2.2"/>
</svg>
<div class="yl" style="top:125.9px">23000.0</div><div class="yl" style="top:245.8px">22000.0</div><div class="yl" style="top:366.2px">21000.0</div><div class="yl" style="top:486.1px">20000.0</div><div class="yl" style="top:606.2px">19000.0</div><div class="yl" style="top:724.2px">18000.0</div>
<div class="ann" style="left:569.5px;top:103.5px">23241.74</div>
<div class="ann" style="left:273px;top:839px">16964.28</div>
<!-- bottom bar text -->
<div class="t" style="left:17px;top:870.5px;color:#ffffff;font-weight:bold">成交量</div>
<div class="t" style="left:113px;top:870.5px;color:#e8e8ee">VOLUME:</div>
<div class="t" style="left:224px;top:870.5px;color:#e8e8ee">1738319846.000</div>
<div class="t" style="left:445px;top:870.5px;color:#f8ee40">MAVOL1: 2009736777.000</div>
<div class="t" style="left:770px;top:870.5px;color:#ec40f2">MAVOL2: 1698373733.000</div>
<svg class="icon" style="left:1915px;top:874px" width="110" height="26" viewBox="0 0 110 26">
<g transform="translate(51,13)" fill="#a9abb1"><circle r="8.5"/><rect x="-2.5" y="-12.5" width="5" height="25"/><rect x="-2.5" y="-12.5" width="5" height="25" transform="rotate(45)"/><rect x="-2.5" y="-12.5" width="5" height="25" transform="rotate(90)"/><rect x="-2.5" y="-12.5" width="5" height="25" transform="rotate(135)"/></g>
<circle cx="89" cy="13" r="12.5" fill="#a9abb1"/>
</svg>
</body></html>
